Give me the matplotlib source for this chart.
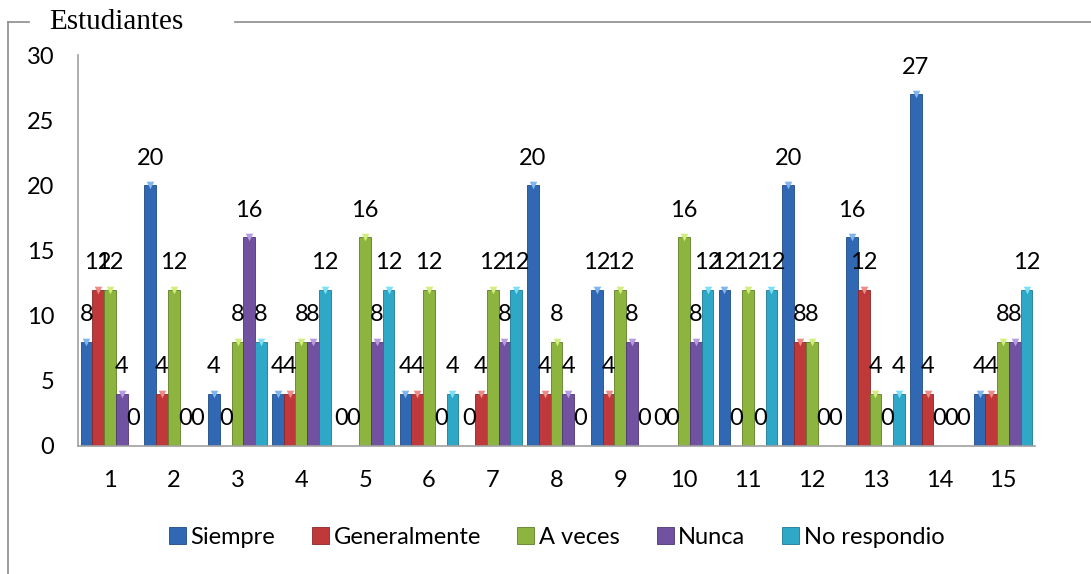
import numpy as np
import matplotlib.pyplot as plt
from matplotlib.lines import Line2D

groups = [str(i) for i in range(1, 16)]
series = ["Siempre", "Generalmente", "A veces", "Nunca", "No respondio"]
siempre = [8, 20, 4, 4, 0, 4, 0, 20, 12, 0, 12, 20, 16, 27, 4]
generalmente = [12, 4, 0, 4, 0, 4, 4, 4, 4, 0, 0, 8, 12, 4, 4]
a_veces = [12, 12, 8, 8, 16, 12, 12, 8, 12, 16, 12, 8, 4, 0, 8]
nunca = [4, 0, 16, 8, 8, 0, 8, 4, 8, 8, 0, 0, 0, 0, 8]
no_respondio = [0, 0, 8, 12, 12, 4, 12, 0, 0, 12, 12, 0, 4, 0, 12]
values = [siempre, generalmente, a_veces, nunca, no_respondio]

colors = ["#3068b4", "#c0393a", "#8cb43e", "#7152a0", "#2ea8c6"]
edges = ["#1f4a85", "#8a2626", "#5f7e28", "#4e3672", "#1d7a92"]
tips = ["#7fb4ee", "#f08a88", "#d2ee7a", "#b79ae0", "#7ee0f6"]

plt.rcParams["font.family"] = ["Lato", "DejaVu Sans"]
fs = 17

fig = plt.figure(figsize=(10.91, 5.74), dpi=100)
ax = fig.add_axes([78 / 1091, 128 / 574, (1035 - 78) / 1091, (446 - 55) / 574])

x = np.arange(len(groups))
w = 0.184
for i, (name, vals) in enumerate(zip(series, values)):
    pos = x + (i - 2) * w
    ax.bar(pos, vals, width=w, color=colors[i], edgecolor=edges[i], linewidth=0.6,
           label=name)
    for px, v in zip(pos, vals):
        if v > 0:
            ax.scatter(px, v, marker="v", s=30, color=tips[i], linewidths=0,
                       zorder=3, clip_on=False)
        ax.annotate(str(v), (px, v), xytext=(0, 19.5), textcoords="offset points",
                    ha="center", va="center", fontsize=fs)

ax.set_xlim(-0.5, len(groups) - 0.5)
ax.set_ylim(0, 30)
ax.set_yticks(range(0, 31, 5))
ax.set_xticks(x)
ax.set_xticklabels(groups)
ax.tick_params(axis="both", length=0, labelsize=fs)
ax.tick_params(axis="y", pad=17)
ax.tick_params(axis="x", pad=17)
for s in ["top", "right"]:
    ax.spines[s].set_visible(False)
for s in ["left", "bottom"]:
    ax.spines[s].set_color("#a0a0a0")
    ax.spines[s].set_linewidth(1.2)

ax.legend(loc="center", bbox_to_anchor=(0.5, (37 - 128) / (446 - 55)), ncol=5,
          frameon=False, fontsize=fs, handlelength=0.72, handleheight=0.72,
          handletextpad=0.2, columnspacing=1.55)

# outer frame with title gap
W, H = 1091, 574
fl = dict(color="#8c8c8c", linewidth=1.2)
fig.add_artist(Line2D([7.5 / W, 7.5 / W], [0, 1 - 22 / H], **fl))
fig.add_artist(Line2D([7.5 / W, 29 / W], [1 - 22 / H, 1 - 22 / H], **fl))
fig.add_artist(Line2D([235 / W, 1], [1 - 22 / H, 1 - 22 / H], **fl))
fig.text(49 / W, 1 - 22 / H, "Estudiantes", family="Liberation Serif", fontsize=21,
         ha="left", va="center")

fig.savefig("out.png", dpi=100)
